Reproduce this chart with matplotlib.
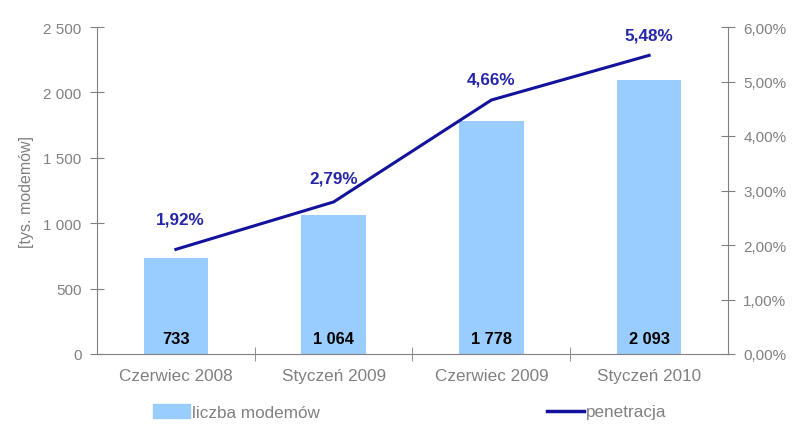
import matplotlib
matplotlib.use("Agg")
import matplotlib.pyplot as plt
from matplotlib.patches import Patch
from matplotlib.lines import Line2D

plt.rcParams['font.family'] = ['Liberation Sans', 'DejaVu Sans']

categories = ["Czerwiec 2008", "Styczeń 2009", "Czerwiec 2009", "Styczeń 2010"]
modems = [733, 1064, 1778, 2093]
penetration = [1.92, 2.79, 4.66, 5.48]
left_ticks = [0, 500, 1000, 1500, 2000, 2500]
right_ticks = [0, 1, 2, 3, 4, 5, 6]

def fmt_int(v):
    return f"{v:,}".replace(",", " ")

def fmt_pct(v):
    return f"{v:.2f}".replace(".", ",") + "%"

grey = "#808080"
bar_col = "#99CCFF"
line_col = "#12129C"
lab_col = "#2626A8"

fig = plt.figure(figsize=(8, 4.35), dpi=100)
ax = fig.add_axes([97/800, 1-355/435, (728-97)/800, (355-28)/435])
x = list(range(len(categories)))
ax.bar(x, modems, width=0.41, color=bar_col, zorder=2)
ax.set_xlim(-0.5, len(categories)-0.5)
ax.set_ylim(0, 2500)
ax.set_yticks(left_ticks)
ax.set_yticklabels([fmt_int(v) for v in left_ticks])
ax.set_xticks(x)
ax.set_xticklabels(categories)
ax.set_xticks([i+0.5 for i in x[:-1]], minor=True)
ax.tick_params(axis='x', which='major', length=0, pad=10, labelsize=12.3, labelcolor=grey)
ax.tick_params(axis='x', which='minor', direction='inout', length=10, color=grey)
ax.tick_params(axis='y', direction='inout', length=10, color=grey, labelsize=11, labelcolor=grey, pad=6)
for s in ['top', 'right']:
    ax.spines[s].set_visible(False)
for s in ['left', 'bottom']:
    ax.spines[s].set_color(grey)
ax.set_ylabel("[tys. modemów]", color=grey, fontsize=11.5)
ax.yaxis.set_label_coords(-0.1, 0.5)

for xi, v in zip(x, modems):
    ax.text(xi, 58, fmt_int(v), ha='center', va='bottom', fontsize=11.8, fontweight='bold', color='black', zorder=3)

ax2 = ax.twinx()
ax2.plot(x, penetration, color=line_col, lw=2.2, zorder=4)
ax2.set_ylim(0, 6)
ax2.set_yticks(right_ticks)
ax2.set_yticklabels([fmt_pct(v) for v in right_ticks])
ax2.tick_params(axis='y', direction='inout', length=10, color=grey, labelsize=11, labelcolor=grey, pad=6)
for s in ['top', 'left', 'bottom']:
    ax2.spines[s].set_visible(False)
ax2.spines['right'].set_color(grey)

offsets = [30, 24, 21, 20]
for xi, v, off in zip(x, penetration, offsets):
    ax2.annotate(fmt_pct(v), (xi, v), xytext=(4*0.72 if xi == 0 else 0, off*0.72), textcoords='offset points',
                 ha='center', va='center', fontsize=12.3, fontweight='bold', color=lab_col)

handles = [Patch(color=bar_col), Line2D([0], [0], color=line_col, lw=2.5)]
fig.legend(handles[:1], ["liczba modemów"], loc='center left', bbox_to_anchor=(153/800, 1-413/435),
           frameon=False, fontsize=12.3, labelcolor=grey, handlelength=2.15, handleheight=0.9,
           handletextpad=0.15, borderpad=0, borderaxespad=0)
fig.legend(handles[1:], ["penetracja"], loc='center left', bbox_to_anchor=(547/800, 1-413/435),
           frameon=False, fontsize=12.3, labelcolor=grey, handlelength=2.15, handletextpad=0.15,
           borderpad=0, borderaxespad=0)

fig.savefig("out.png", dpi=100)
